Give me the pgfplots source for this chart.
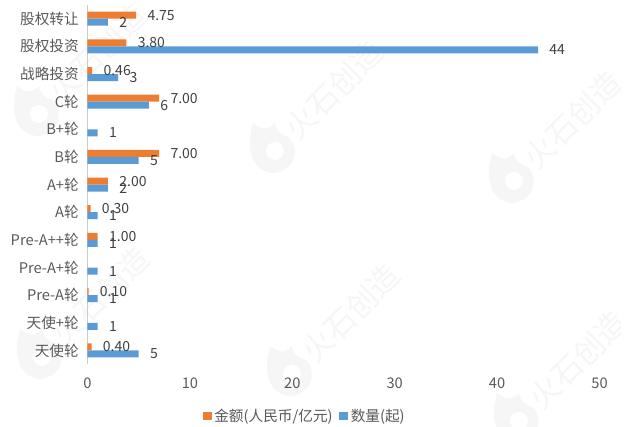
\documentclass[border=0pt]{standalone}
\usepackage{pgfplots}
\pgfplotsset{compat=1.18}
\usepackage{fontspec}
\setmainfont{Noto Sans CJK SC}
\definecolor{orbar}{HTML}{ED7D31}
\definecolor{blbar}{HTML}{5B9BD5}
\definecolor{wm}{HTML}{F6F6F6}
\newcommand{\wmark}[2]{%
 \begin{scope}[shift={(#1,#2)}]
  \fill[wm] (-20,-24) .. controls (-8,-14) and (-2,-20) .. (2,-24) .. controls (3,-16) and (8,-12) .. (16,-10)
     .. controls (26,0) and (24,22) .. (2,26) .. controls (-20,26) and (-28,4) .. (-20,-24) -- cycle;
  \fill[white] (2,4) circle (9);
  \node[rotate=45,text=wm,font=\fontsize{23pt}{23pt}\selectfont,inner sep=0pt] at (61,-57) {火石创造};
 \end{scope}}
\begin{document}
\begin{tikzpicture}
\path[use as bounding box] (0,0) rectangle (481.5pt,-320.25pt);
\begin{scope}
\clip (0,0) rectangle (465pt,-320.25pt);
\begin{scope}[x=.75pt,y=-.75pt]
\wmark{37}{110}
\wmark{273}{147}
\wmark{512}{177}
\wmark{40}{353}
\wmark{290}{370}
\wmark{517}{417}
\end{scope}
\end{scope}
\begin{axis}[
  at={(65.625pt,-273.2pt)}, anchor=south west,
  scale only axis, width=384pt, height=269.55pt,
  xmin=0, xmax=50, ymin=-0.5, ymax=12.5,
  axis y line=left, axis x line=bottom,
  axis line style={-},
  x axis line style={draw=none},
  y axis line style={draw=black!20},
  xtick={0,10,...,50}, ytick={0,...,12},
  major tick length=0pt,
  yticklabels={天使轮,天使+轮,Pre-A轮,Pre-A+轮,Pre-A++轮,A轮,A+轮,B轮,B+轮,C轮,战略投资,股权投资,股权转让},
  ticklabel style={text=black!65,font=\fontsize{11pt}{12pt}\selectfont},
  /pgf/number format/assume math mode=true,
  xticklabel style={yshift=-7pt},
  yticklabel style={xshift=-3pt},
  xbar,
  bar width=5.25pt,
  legend columns=2,
  legend style={at={(0.425,-0.108)},anchor=north,draw=none,fill=none,
     font=\fontsize{11pt}{12pt}\selectfont,text=black!65,
     /tikz/every even column/.append style={column sep=3pt}},
  legend image code/.code={\fill[#1] (0pt,-3.3pt) rectangle (6.6pt,3.3pt);},
  nodes near coords,
  every node near coord/.append style={anchor=west,text=black!75,xshift=5pt,yshift=0pt,font=\fontsize{10.5pt}{12pt}\selectfont,/pgf/number format/assume math mode=true},
  clip=false,
]
\addplot+[draw=none,fill=orbar,bar shift=2.65pt,
  /pgf/number format/fixed,/pgf/number format/fixed zerofill,/pgf/number format/precision=2]
 coordinates {(0.40,0) (0.10,2) (1.00,4) (0.30,5) (2.00,6) (7.00,7) (7.00,9) (0.46,10) (3.80,11) (4.75,12)};
\addplot+[draw=none,fill=blbar,bar shift=-2.65pt,
  /pgf/number format/fixed,/pgf/number format/precision=0]
 coordinates {(5,0) (1,1) (1,2) (1,3) (1,4) (1,5) (2,6) (5,7) (1,8) (6,9) (3,10) (44,11) (2,12)};
\legend{金额(人民币/亿元),数量(起)}
\end{axis}
\end{tikzpicture}
\end{document}
